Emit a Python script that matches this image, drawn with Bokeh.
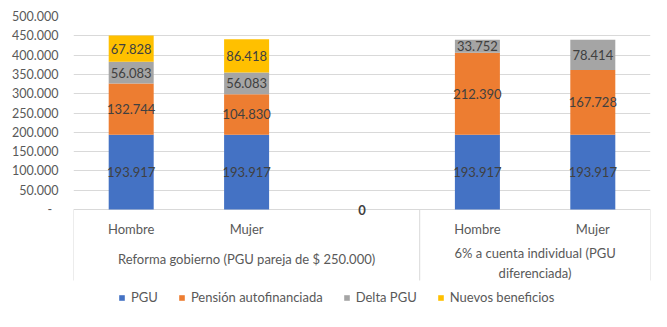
from bokeh.plotting import figure
from bokeh.models import ColumnDataSource, FixedTicker, Range1d, Legend, LegendItem
from bokeh.core.properties import value
from bokeh.embed import file_html
from bokeh.resources import INLINE

# ---------------- data ----------------
categories = ["Hombre", "Mujer", "", "Hombre", "Mujer"]
group_names = ["Reforma gobierno (PGU pareja de $ 250.000)",
               "6% a cuenta individual (PGU\ndiferenciada)"]
group_start = [0, 3]
group_end = [3, 5]
series_names = ["PGU", "Pensión autofinanciada", "Delta PGU", "Nuevos beneficios"]
pgu = [193917, 193917, 0, 193917, 193917]
autofinanciada = [132744, 104830, 0, 212390, 167728]
delta_pgu = [56083, 56083, 0, 33752, 78414]
nuevos = [67828, 86418, 0, 0, 0]
colors = ["#4472C4", "#ED7D31", "#A5A5A5", "#FFC000"]
y_ticks = [0, 50000, 100000, 150000, 200000, 250000, 300000, 350000, 400000, 450000, 500000]
y_tick_labels = ["-\u00a0\u00a0", "50.000", "100.000", "150.000", "200.000", "250.000",
                 "300.000", "350.000", "400.000", "450.000", "500.000"]

FONT = "Lato"
FS = "13px"
TXT = "#595959"
LBL = "#404040"
GRID = "#D9D9D9"

W, H = 667, 327
left, right, top = 73, 17, 16
zero_px = 209
ymax = 500000
units_per_px = ymax / (zero_px - top)
ymin = -(H - zero_px) * units_per_px

p = figure(width=W, height=H, output_backend="svg", toolbar_location=None,
           x_range=Range1d(0, len(categories)), y_range=Range1d(ymin, ymax),
           x_axis_location=None, min_border_left=left, min_border_right=right,
           min_border_top=top, min_border_bottom=0)
p.outline_line_color = None
p.background_fill_color = "white"
p.border_fill_color = "white"

xs = [i + 0.5 for i in range(len(categories))]
keys = ["pgu", "auto", "delta", "nuevos"]
vals = [pgu, autofinanciada, delta_pgu, nuevos]
src = ColumnDataSource({"x": xs, **{k: v for k, v in zip(keys, vals)}})
renderers = p.vbar_stack(keys, x="x", width=0.39, source=src, color=colors,
                         line_color=None)

# y axis
ticker = FixedTicker(ticks=y_ticks)
p.yaxis.ticker = ticker
p.yaxis.major_label_overrides = {t: l for t, l in zip(y_ticks, y_tick_labels)}
p.yaxis.axis_line_color = None
p.yaxis.major_tick_line_color = None
p.yaxis.minor_tick_line_color = None
p.yaxis.major_tick_out = 0
p.yaxis.major_label_standoff = 15
p.yaxis.major_label_text_font = FONT
p.yaxis.major_label_text_font_size = "12.5px"
p.yaxis.major_label_text_color = TXT
p.ygrid.ticker = ticker
p.ygrid.grid_line_color = GRID
p.xgrid.visible = False

# data labels
lx, ly, lt, lw = [], [], [], []
for i in range(len(categories)):
    bottom = 0
    total = sum(v[i] for v in vals)
    if total == 0:
        lx.append(xs[i]); ly.append(0); lt.append("0"); lw.append("bold")
        continue
    for v in vals:
        if v[i] > 0:
            lx.append(xs[i]); ly.append(bottom + v[i] / 2)
            lt.append(f"{v[i]:,}".replace(",", ".")); lw.append("normal")
        bottom += v[i]
p.text(x=lx, y=ly, text=lt, text_font=value(FONT), text_font_size=FS,
       text_color=LBL, text_align="center", text_baseline="middle",
       text_font_style=lw)

# category labels
p.text(x=xs, y=[0] * len(xs), text=categories, y_offset=19, text_font=value(FONT),
       text_font_size=FS, text_color=TXT, text_align="center",
       text_baseline="middle")

# group box lines
bottom_y = -(280 - zero_px) * units_per_px
edges = sorted(set(group_start + group_end))
p.segment(x0=edges, y0=[0] * len(edges), x1=edges, y1=[bottom_y] * len(edges),
          line_color=GRID, line_width=1)

# group labels
gx = [(a + b) / 2 for a, b in zip(group_start, group_end)]
p.text(x=gx, y=[0, 0], text=group_names, y_offset=[49, 53.5], text_font=value(FONT),
       text_font_size=FS, text_color=TXT, text_align="center",
       text_baseline="middle", text_line_height=1.25)

legend = Legend(items=[LegendItem(label=s, renderers=[r]) for s, r in zip(series_names, renderers)],
                orientation="horizontal", location=(45, 22), padding=0, margin=0,
                spacing=20, label_standoff=6, glyph_width=7, glyph_height=7,
                label_height=8, label_width=10,
                label_text_font=FONT, label_text_font_size=FS,
                label_text_color=TXT, border_line_color=None,
                background_fill_alpha=0)
p.add_layout(legend, "center")

open("out.html", "w").write(file_html(p, INLINE))
